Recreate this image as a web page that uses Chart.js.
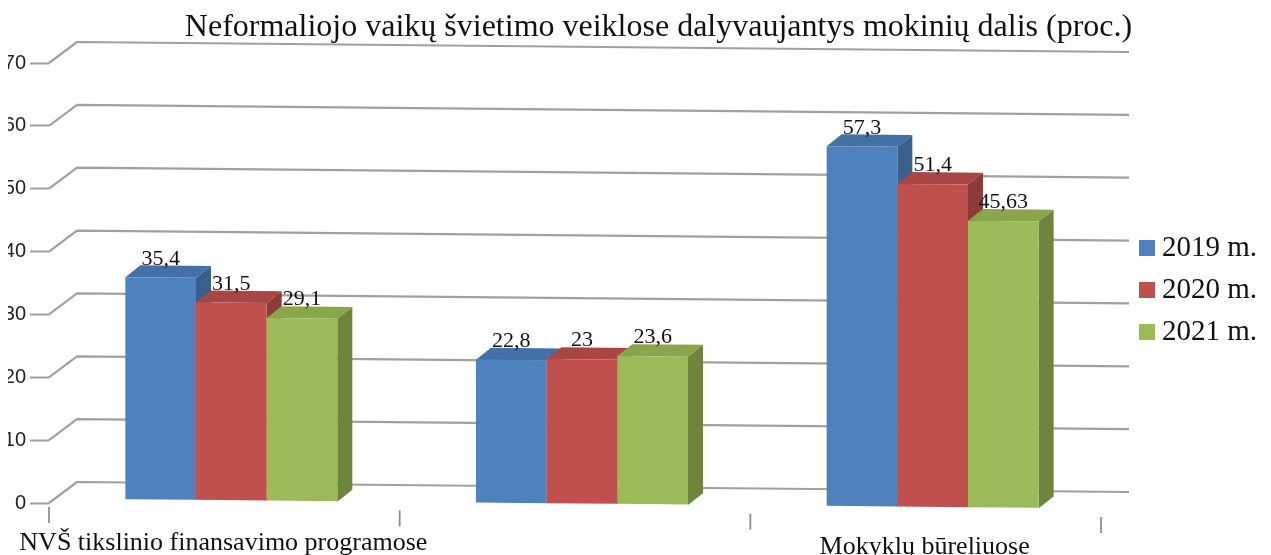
<!DOCTYPE html>
<html><head><meta charset="utf-8">
<style>html,body{margin:0;padding:0;background:#fff;overflow:hidden}canvas{display:block;filter:blur(0.55px)}</style>
<script src="https://cdn.jsdelivr.net/npm/chart.js@4"></script>
</head><body><canvas id="c" width="1271" height="555"></canvas>
<script>
const chartTitle = 'Neformaliojo vaikų švietimo veiklose dalyvaujantys mokinių dalis (proc.)';
const categories = ['NVŠ tikslinio finansavimo programose', '', 'Mokyklų būreliuose'];
const values2019 = [35.4, 22.8, 57.3];
const values2020 = [31.5, 23, 51.4];
const values2021 = [29.1, 23.6, 45.63];
const seriesNames = ['2019 m.', '2020 m.', '2021 m.'];
const SERIF = '"Liberation Serif","Times New Roman",serif';
const frontColors = ['#4f81bd', '#c0504d', '#9bbb59'];
const topColors = ['#4370a5', '#a84643', '#8aa64d'];
const sideColors = ['#395f8d', '#8e3a38', '#6f853e'];
const K = 0.0095, WALL = {dx: 28, dy: -21}, BAR_SHIFT = {dx: 7, dy: -4}, DEPTH = {dx: 15, dy: -12};

function legendSwatch(color) {
  const s = document.createElement('canvas');
  s.width = 16; s.height = 16;
  const g = s.getContext('2d');
  g.fillStyle = color; g.fillRect(0, 0, 16, 16);
  return s;
}

const pseudo3d = {
  id: 'pseudo3d',
  beforeLayout(chart) {
    const l = chart.legend;
    if (!l._patched) {
      const f = l.fit;
      l.fit = function () { f.call(this); this.width = 170; };
      l._patched = true;
    }
  },
  afterLayout(chart) {
    const l = chart.legend, pad = chart.options.plugins.legend.labels.padding;
    l.left = 1146.5 - pad; l.right = l.left + 170;
    l.top = 220.5; l.bottom = l.top + 200;
    const t = chart.titleBlock;
    t.left += 23; t.right += 23;
  },
  beforeDraw(chart) {
    const c = chart.ctx; c.save();
    c.beginPath(); c.rect(8, 0, 1271, 555); c.clip();
  },
  afterDraw(chart) { chart.ctx.restore(); },
  beforeDatasetsDraw(chart) {
    const c = chart.ctx, y = chart.scales.y, x = chart.scales.x, a = chart.chartArea;
    c.save();
    c.strokeStyle = '#a0a0a0'; c.lineWidth = 2.2; c.lineJoin = 'round';
    y.ticks.forEach(t => {
      const py = y.getPixelForValue(t.value);
      const xb = a.left + WALL.dx, xe = a.right + WALL.dx;
      c.beginPath();
      c.moveTo(a.left, py);
      c.lineTo(xb, py + WALL.dy);
      c.lineTo(xe, py + WALL.dy + K * (xe - xb));
      c.stroke();
    });
    const band = (a.right - a.left) / categories.length;
    c.strokeStyle = '#8f8f8f'; c.lineWidth = 1.8;
    for (let i = 0; i <= categories.length; i++) {
      const px = x.getPixelForValue(i) - band / 2;
      const py = a.bottom + 4 + K * (px - a.left);
      c.beginPath(); c.moveTo(px, py); c.lineTo(px, py + 16); c.stroke();
    }
    c.fillStyle = '#111'; c.textAlign = 'center'; c.textBaseline = 'alphabetic';
    c.font = '26px ' + SERIF;
    categories.forEach((lab, i) => {
      const px = x.getPixelForValue(i);
      c.fillText(lab, px - 1, a.bottom + 47 + 0.0055 * (px - 224));
    });
    c.restore();
  },
  beforeDatasetDraw() { return false; },
  afterDatasetsDraw(chart) {
    const c = chart.ctx, a = chart.chartArea;
    const base = chart.scales.y.getPixelForValue(0);
    chart.data.labels.forEach((_, i) => {
      chart.data.datasets.forEach((ds, d) => {
        const el = chart.getDatasetMeta(d).data[i];
        const L = el.x - el.width / 2, R = el.x + el.width / 2;
        c.save();
        c.transform(1, K, 0, 1, BAR_SHIFT.dx, BAR_SHIFT.dy - K * a.left);
        c.fillStyle = topColors[d];
        c.beginPath();
        c.moveTo(L, el.y); c.lineTo(R, el.y);
        c.lineTo(R + DEPTH.dx, el.y + DEPTH.dy); c.lineTo(L + DEPTH.dx, el.y + DEPTH.dy);
        c.closePath(); c.fill();
        c.fillStyle = sideColors[d];
        c.beginPath();
        c.moveTo(R, el.y); c.lineTo(R + DEPTH.dx, el.y + DEPTH.dy);
        c.lineTo(R + DEPTH.dx, base + DEPTH.dy); c.lineTo(R, base);
        c.closePath(); c.fill();
        el.draw(c);
        c.restore();
      });
    });
    chart.data.labels.forEach((_, i) => {
      chart.data.datasets.forEach((ds, d) => {
        const el = chart.getDatasetMeta(d).data[i];
        const px = el.x + BAR_SHIFT.dx;
        const py = el.y + BAR_SHIFT.dy + K * (px - a.left) - 13;
        c.font = '22px ' + SERIF; c.fillStyle = '#111';
        c.textAlign = 'center'; c.textBaseline = 'alphabetic';
        c.fillText(String(ds.data[i]).replace('.', ','), px, py);
      });
    });
  }
};

new Chart(document.getElementById('c'), {
  type: 'bar',
  data: {
    labels: categories,
    datasets: [
      {label: seriesNames[0], data: values2019, backgroundColor: frontColors[0]},
      {label: seriesNames[1], data: values2020, backgroundColor: frontColors[1]},
      {label: seriesNames[2], data: values2021, backgroundColor: frontColors[2]}
    ]
  },
  plugins: [pseudo3d],
  options: {
    responsive: false, animation: false,
    layout: {autoPadding: false, padding: {left: 0, right: 0, top: 0, bottom: 52}},
    datasets: {bar: {categoryPercentage: 0.6045, barPercentage: 1, borderWidth: 0}},
    scales: {
      x: {
        grid: {display: false, drawTicks: false}, border: {display: false},
        ticks: {display: false}, afterFit(s) { s.height = 0; }
      },
      y: {
        min: 0, max: 70,
        grid: {drawOnChartArea: false, tickLength: 19, tickColor: '#a0a0a0', tickWidth: 2},
        border: {display: false},
        ticks: {stepSize: 10, padding: 4, color: '#222', font: {family: '"Liberation Sans",Arial,sans-serif', size: 20}},
        afterFit(s) { s.width = 49; }
      }
    },
    plugins: {
      title: {display: true, text: chartTitle, color: '#111', font: {family: SERIF, size: 32, weight: 'normal'}, padding: {top: 8, bottom: 16.6}},
      legend: {
        position: 'right', align: 'start',
        labels: {
          usePointStyle: true, pointStyleWidth: 1, boxHeight: 16, padding: 13, color: '#111',
          font: {family: SERIF, size: 29},
          generateLabels(chart) {
            return Chart.defaults.plugins.legend.labels.generateLabels(chart).map((it, i) => {
              it.pointStyle = legendSwatch(frontColors[i]);
              return it;
            });
          }
        }
      },
      tooltip: {enabled: false}
    }
  }
});
</script></body></html>
